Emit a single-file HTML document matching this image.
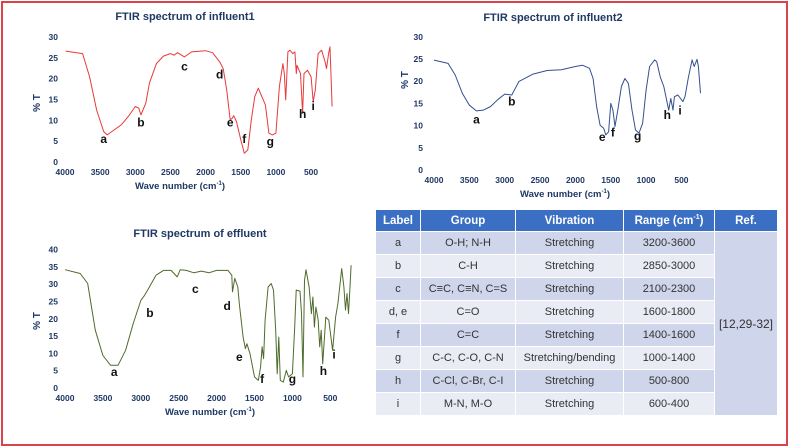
<!DOCTYPE html>
<html><head><meta charset="utf-8"><style>
body{margin:0;background:#fff;width:789px;height:446px;overflow:hidden;font-family:"Liberation Sans",sans-serif}
#frame{position:absolute;left:1px;top:1px;width:783px;height:441px;border:2px solid #d9434a}
svg{position:absolute;left:0;top:0}
table{position:absolute;left:375px;top:209px;width:403px;border-collapse:separate;border-spacing:1px;font-size:11px;color:#333;text-align:center}
th{background:#3b6fc4;color:#fff;height:21px;font-weight:bold;font-size:11.5px;padding:0}
td{height:22px;padding:0}
tr.o td{background:#cfd5ea} tr.e td{background:#e9ecf5}
td.ref{background:#cfd5ea!important;font-size:12px}
</style></head><body>
<div id="frame"></div>
<svg id="chart" width="789" height="446"></svg>
<table>
<tr><th style="width:44px">Label</th><th style="width:94px">Group</th><th style="width:107px">Vibration</th><th style="width:90px">Range (cm<sup style="font-size:7px">-1</sup>)</th><th>Ref.</th></tr>
<tr class="o"><td>a</td><td>O-H; N-H</td><td>Stretching</td><td>3200-3600</td><td class="ref" rowspan="8">[12,29-32]</td></tr>
<tr class="e"><td>b</td><td>C-H</td><td>Stretching</td><td>2850-3000</td></tr>
<tr class="o"><td>c</td><td>C≡C, C≡N, C=S</td><td>Stretching</td><td>2100-2300</td></tr>
<tr class="e"><td>d, e</td><td>C=O</td><td>Stretching</td><td>1600-1800</td></tr>
<tr class="o"><td>f</td><td>C=C</td><td>Stretching</td><td>1400-1600</td></tr>
<tr class="e"><td>g</td><td>C-C, C-O, C-N</td><td>Stretching/bending</td><td>1000-1400</td></tr>
<tr class="o"><td>h</td><td>C-Cl, C-Br, C-I</td><td>Stretching</td><td>500-800</td></tr>
<tr class="e"><td>i</td><td>M-N, M-O</td><td>Stretching</td><td>600-400</td></tr>
</table>
<script>
const xTicks=[4000,3500,3000,2500,2000,1500,1000,500];
const inf1Wn=[3990,3750,3650,3550,3450,3400,3300,3200,3100,3000,2950,2920,2900,2850,2800,2700,2600,2500,2450,2400,2300,2200,2000,1900,1800,1750,1700,1650,1620,1600,1560,1500,1450,1400,1350,1300,1250,1200,1150,1100,1050,1000,950,900,880,860,830,800,760,730,710,700,650,620,600,550,500,470,440,400,350,300,280,250,230,200];
const inf1T=[26.6,26.0,20.4,12.5,7.3,6.5,7.7,8.9,10.9,13.3,12.9,11.3,12.1,14.1,18.9,23.6,25.4,26.0,25.6,26.2,25.2,26.4,26.7,26.2,24.0,22.4,17.3,10.1,10.5,11.1,9.7,5.3,2.1,2.9,10.1,15.7,17.7,15.7,13.7,6.9,6.5,6.9,18.1,23.6,21.2,14.9,26.4,26.8,26.0,26.4,21.2,23.2,21.2,11.7,21.2,22.0,20.4,14.5,17.3,26.0,26.8,24.0,22.4,26.0,27.6,13.3];
const inf2Wn=[4000,3800,3700,3600,3500,3400,3300,3200,3100,3000,2900,2850,2800,2600,2400,2200,2000,1900,1800,1750,1700,1650,1600,1570,1530,1500,1470,1440,1400,1350,1300,1250,1200,1150,1100,1050,1000,950,880,850,800,750,700,680,650,620,600,550,480,450,400,350,320,280,260,230];
const inf2T=[24.75,24,21.4,17.3,14.6,13.3,13.5,14.3,15.8,17.1,16.9,18.4,19.9,21.6,22.4,22.6,23.3,23.6,22.9,20.6,14.3,10.1,9.4,7.9,8.6,15.0,13.5,9.8,13.5,18.8,20.6,19.5,13.5,9.0,8.3,10.5,18.0,23.3,24.8,24.4,21.0,18.8,15.0,13.5,16.1,13.5,16.5,16.9,15.4,16.5,21.0,24.8,23.3,24.9,23.3,17.3];
const effWn=[4000,3800,3700,3650,3600,3500,3400,3300,3200,3100,3000,2950,2900,2800,2700,2600,2520,2480,2400,2300,2200,2100,2000,1850,1800,1790,1760,1720,1700,1650,1620,1600,1560,1500,1450,1420,1400,1380,1360,1320,1280,1250,1220,1200,1180,1160,1120,1080,1050,1000,970,950,900,880,860,840,820,780,750,730,710,690,660,640,620,600,560,520,470,430,400,350,320,300,280,260,240,225];
const effT=[34.2,33.1,30.2,23.4,16.7,9.4,6.6,6.6,10.9,18.6,25.3,26.8,28.7,32.6,34.0,34.0,32.1,34.2,34.0,33.3,33.8,33.3,34.0,34.0,32.6,27.8,31.7,29.2,24.4,14.7,11.4,12.8,9.9,3.2,2.2,6.1,11.9,8.5,19.6,29.2,30.2,28.3,16.7,4.1,14.7,2.2,1.7,5.1,3.2,4.1,17.6,28.3,28.0,21.5,3.2,31.1,34.2,29.2,21.5,26.3,17.6,23.4,19.6,11.9,16.7,7.0,20.5,19.6,10.9,20.5,24.4,34.5,29.2,22.5,27.3,21.5,29.2,35.5];
const inf1Labels=['a','b','c','d','e','f','g','h','i'];
const inf1LabelWn=[3450,2920,2300,1800,1650,1450,1080,620,470];
const inf1LabelT=[4.5,8.5,22,20,8.5,4.5,4.0,10.5,12.5];
const inf2Labels=['a','b','e','f','g','h','i'];
const inf2LabelWn=[3400,2900,1620,1470,1120,700,520];
const inf2LabelT=[10.5,14.5,6.5,7.5,6.8,11.5,12.5];
const effLabels=['a','b','c','d','e','f','g','h','i'];
const effLabelWn=[3350,2880,2280,1860,1700,1400,1000,590,450];
const effLabelT=[3.5,20.5,27.5,22.5,7.8,1.5,1.5,3.8,8.5];

const NS='http://www.w3.org/2000/svg';
const svg=document.getElementById('chart');
function mk(tag,attrs,txt){const e=document.createElementNS(NS,tag);for(const k in attrs)e.setAttribute(k,attrs[k]);if(txt!==undefined)e.textContent=txt;svg.appendChild(e);return e;}
const navy='#1f3864';
function chart(o){
  const sx=v=>o.x0+(4000-v)*o.kx;
  const sy=t=>o.y0-t*o.ky;
  let t=mk('text',{x:o.tx,y:o.ty,'text-anchor':'middle','font-size':11,'font-weight':'bold',fill:navy},o.title);
  
  o.yTicks.forEach(v=>{const e=mk('text',{x:o.x0-o.tg,y:sy(v)+3,'text-anchor':'end','font-size':8.5,'font-weight':'bold',fill:navy},v);
    });
  xTicks.forEach(v=>{const e=mk('text',{x:sx(v),y:o.y0+13,'text-anchor':'middle','font-size':8.5,'font-weight':'bold',fill:navy},v);
    });
  const xl=mk('text',{x:o.xlx,y:o.y0+27,'text-anchor':'middle','font-size':9.5,'font-weight':'bold',fill:navy});
  xl.innerHTML='Wave number (cm<tspan font-size="6" dy="-4">-1</tspan><tspan dy="4">)</tspan>';
  
  const yl=mk('text',{x:0,y:0,'text-anchor':'middle','font-size':10,'font-weight':'bold',fill:navy,transform:`translate(${o.ylx},${o.yly}) rotate(-90)`},'% T');
  
  const d=o.wn.map((w,i)=>(i?'L':'M')+sx(w).toFixed(1)+','+sy(o.t[i]).toFixed(1)).join('');
  const p=mk('path',{d:d,fill:'none',stroke:o.color,'stroke-width':1,'stroke-linejoin':'round'});
  
  o.labels.forEach((l,i)=>{const e=mk('text',{x:sx(o.lw[i]),y:sy(o.lt[i]),'text-anchor':'middle','font-size':12,'font-weight':'bold',fill:'#111'},l);
    });
}
chart({key:'influent1',title:'FTIR spectrum of influent1',tx:185,ty:20,x0:65,kx:0.0703,y0:162,ky:4.17,tg:7,yTicks:[0,5,10,15,20,25,30],xlx:180,ylx:40,yly:103,wn:inf1Wn,t:inf1T,color:'#e83a3a',labels:inf1Labels,lw:inf1LabelWn,lt:inf1LabelT});
chart({key:'influent2',title:'FTIR spectrum of influent2',tx:553,ty:21,x0:434,kx:0.0707,y0:170,ky:4.44,tg:11,yTicks:[0,5,10,15,20,25,30],xlx:565,ylx:408,yly:80,wn:inf2Wn,t:inf2T,color:'#34508f',labels:inf2Labels,lw:inf2LabelWn,lt:inf2LabelT});
chart({key:'effluent',title:'FTIR spectrum of effluent',tx:200,ty:237,x0:65,kx:0.0758,y0:388,ky:3.46,tg:7,yTicks:[0,5,10,15,20,25,30,35,40],xlx:210,ylx:40,yly:321,wn:effWn,t:effT,color:'#4f6b2c',labels:effLabels,lw:effLabelWn,lt:effLabelT});
</script>
</body></html>
